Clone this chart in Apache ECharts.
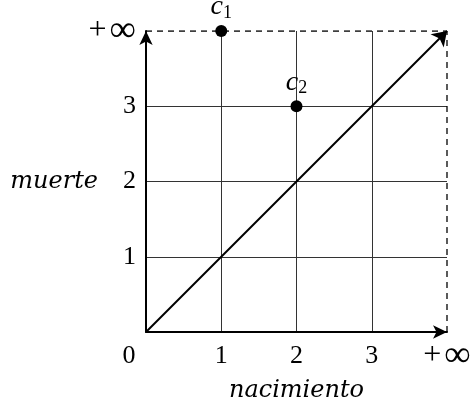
<!DOCTYPE html>
<html>
<head>
<meta charset="utf-8">
<script src="https://cdn.jsdelivr.net/npm/echarts@6/dist/echarts.min.js"></script>
<style>
  html, body { margin: 0; padding: 0; background: #fff; }
  #chart { width: 471px; height: 408px; }
</style>
</head>
<body>
<div id="chart"></div>
<script>
// +inf is drawn at position 4
var tickValues = [0, 1, 2, 3, 4]
var xTickLabels = ['0', '1', '2', '3', '+\u221e']
var yTickLabels = ['', '1', '2', '3', '+\u221e']
var diagonal = [[0, 0], [4, 4]]
var topBorder = [[0, 4], [4, 4]]
var rightBorder = [[4, 0], [4, 4]]
var points = [
  { name: '1', value: [1, 4] },
  { name: '2', value: [2, 3] }
]

var font = 'Liberation Serif'
var wideFont = 'DejaVu Serif'
var chart = echarts.init(document.getElementById('chart'))

var labelRich = {
  d: { fontFamily: font, fontSize: 26, lineHeight: 28, color: '#000' },
  z: { fontFamily: font, fontSize: 26, lineHeight: 28, color: '#000', padding: [0, 34, 0, 0] },
  p: { fontFamily: font, fontSize: 32, lineHeight: 28, color: '#000', padding: [0, 3, 0, 0] },
  i: { fontFamily: 'DejaVu Sans', fontWeight: 200, fontSize: 37, lineHeight: 28, color: '#000' }
}

function fmtTick(s) {
  if (s === '') return ''
  if (s === '0') return '{z|0}'
  if (s.charAt(0) === '+') return '{p|+}{i|\u221e}'
  return '{d|' + s + '}'
}

function axisCommon(labels) {
  return {
    type: 'value',
    min: 0,
    max: 4,
    interval: 1,
    nameMoveOverlap: false,
    axisLine: {
      show: true,
      lineStyle: { color: '#000', width: 2 },
      symbol: ['none', 'arrow'],
      symbolSize: [10, 14]
    },
    axisTick: { show: false },
    splitLine: {
      show: true,
      showMinLine: false,
      showMaxLine: false,
      lineStyle: { color: '#333', width: 1, type: 'solid' }
    },
    axisLabel: {
      color: '#000',
      showMinLabel: true,
      showMaxLabel: true,
      formatter: function (v) { return fmtTick(labels[tickValues.indexOf(v)]) },
      rich: labelRich
    },
    nameTextStyle: {
      color: '#000',
      fontFamily: wideFont,
      fontStyle: 'italic',
      fontSize: 24
    }
  }
}

var xAxis = axisCommon(xTickLabels)
xAxis.name = 'nacimiento'
xAxis.nameLocation = 'middle'
xAxis.nameGap = 47
xAxis.axisLabel.margin = 10

var yAxis = axisCommon(yTickLabels)
yAxis.name = 'muerte'
yAxis.nameLocation = 'middle'
yAxis.nameRotate = 0
yAxis.nameGap = 48
yAxis.nameTextStyle.align = 'right'
yAxis.axisLabel.margin = 10

chart.setOption({
  animation: false,
  grid: { left: 146, right: 24, top: 31, bottom: 76, outerBoundsMode: 'none', containLabel: false },
  xAxis: xAxis,
  yAxis: yAxis,
  series: [
    {
      type: 'line',
      data: topBorder,
      symbol: 'none',
      lineStyle: { color: '#000', width: 1.3, type: [6, 5] }
    },
    {
      type: 'line',
      data: rightBorder,
      symbol: 'none',
      lineStyle: { color: '#000', width: 1.3, type: [6, 5] }
    },
    {
      type: 'lines',
      coordinateSystem: 'cartesian2d',
      symbol: ['none', 'arrow'],
      symbolSize: [10, 14],
      lineStyle: { color: '#000', width: 2, opacity: 1 },
      data: [{ coords: diagonal }]
    },
    {
      type: 'scatter',
      data: points,
      symbol: 'circle',
      symbolSize: 12,
      itemStyle: { color: '#000', opacity: 1 },
      label: {
        show: true,
        position: 'top',
        distance: 3,
        formatter: function (p) { return '{c|c}{s|' + p.name + '}' },
        rich: {
          c: { fontFamily: font, fontStyle: 'italic', fontSize: 28, color: '#000' },
          s: { fontFamily: font, fontSize: 18, color: '#000', padding: [12, 0, 0, 0] }
        }
      }
    }
  ]
})
</script>
</body>
</html>
